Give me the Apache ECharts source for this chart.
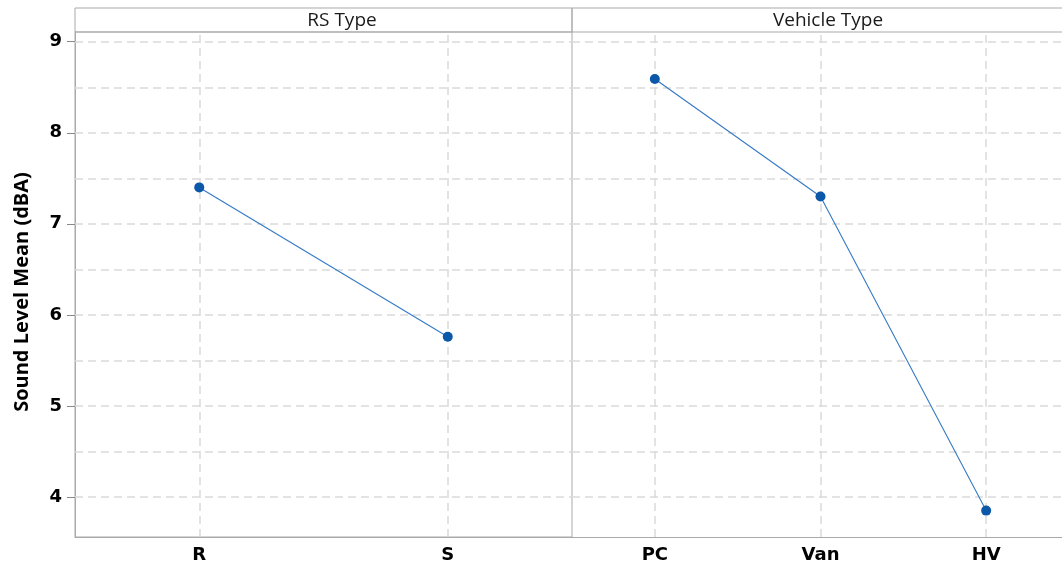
<!DOCTYPE html>
<html>
<head>
<meta charset="utf-8">
<script src="https://cdn.jsdelivr.net/npm/echarts@6/dist/echarts.min.js"></script>
<style>
  html, body { margin: 0; padding: 0; background: #fff; overflow: hidden; }
  #chart { width: 1069px; height: 565px; }
</style>
</head>
<body>
<div id="chart"></div>
<script>
// Main effects: mean sound level by factor level
const rsCategories = ['R', 'S'];
const rsMeans = [7.40, 5.76];
const vehicleCategories = ['PC', 'Van', 'HV'];
const vehicleMeans = [8.59, 7.30, 3.85];
const panelTitles = ['RS Type', 'Vehicle Type'];
const yTickLabels = [4, 5, 6, 7, 8, 9];
const yGridValues = [4, 4.5, 5, 5.5, 6, 6.5, 7, 7.5, 8, 8.5, 9];
const yName = 'Sound Level Mean (dBA)';
const yMin = 3.56;
const yMax = 9.107;

const frameColor = '#a9a9a9';
const gridLineStyle = { color: '#dadada', width: 1.5, type: [8, 5] };
const pointColor = '#0b57a8';
const lineColor = '#3579c6';

function gridMarkLines(categories) {
  const data = yGridValues.map(v => ({ yAxis: v }))
    .concat(categories.map(c => ({ xAxis: c })));
  return {
    silent: true,
    symbol: 'none',
    z: 1,
    label: { show: false },
    lineStyle: gridLineStyle,
    emphasis: { disabled: true },
    data: data
  };
}

const labelFont = { fontFamily: 'DejaVu Sans', fontWeight: 'bold', fontSize: 18, color: '#000' };

const chart = echarts.init(document.getElementById('chart'), null, { renderer: 'canvas' });
chart.setOption({
  animation: false,
  backgroundColor: '#fff',
  grid: [
    { left: 75, top: 32, width: 497, height: 505, show: true, borderColor: frameColor, borderWidth: 1, containLabel: false },
    { left: 572, top: 32, width: 497, height: 505, show: false, containLabel: false }
  ],
  xAxis: [
    {
      type: 'category', gridIndex: 0, data: rsCategories, boundaryGap: true,
      axisLine: { lineStyle: { color: frameColor } },
      axisTick: { alignWithLabel: true, length: 4, lineStyle: { color: frameColor } },
      axisLabel: Object.assign({ margin: 9 }, labelFont),
      splitLine: { show: false }
    },
    {
      type: 'category', gridIndex: 1, data: vehicleCategories, boundaryGap: true,
      axisLine: { lineStyle: { color: frameColor } },
      axisTick: { alignWithLabel: true, length: 4, lineStyle: { color: frameColor } },
      axisLabel: Object.assign({ margin: 9 }, labelFont),
      splitLine: { show: false }
    }
  ],
  yAxis: [
    {
      type: 'value', gridIndex: 0, min: yMin, max: yMax,
      axisLine: { show: true, lineStyle: { color: frameColor } },
      axisTick: { show: true, length: 8, customValues: yTickLabels, lineStyle: { color: '#888' } },
      axisLabel: Object.assign({ margin: 13, customValues: yTickLabels }, labelFont),
      splitLine: { show: false }
    },
    {
      type: 'value', gridIndex: 1, min: yMin, max: yMax, show: false,
      splitLine: { show: false }
    }
  ],
  graphic: [
    { type: 'rect', shape: { x: 75, y: 8, width: 497, height: 24 }, style: { fill: 'none', stroke: frameColor, lineWidth: 1 }, silent: true },
    { type: 'rect', shape: { x: 572, y: 8, width: 497, height: 24 }, style: { fill: 'none', stroke: frameColor, lineWidth: 1 }, silent: true },
    { type: 'text', x: 342, y: 21, style: { text: panelTitles[0], fill: '#1a1a1a', font: '19px "Open Sans"', textAlign: 'center', textVerticalAlign: 'middle' }, silent: true },
    { type: 'text', x: 828, y: 21, style: { text: panelTitles[1], fill: '#1a1a1a', font: '19px "Open Sans"', textAlign: 'center', textVerticalAlign: 'middle' }, silent: true },
    { type: 'text', x: 22, y: 292, rotation: Math.PI / 2, style: { text: yName, fill: '#000', font: 'bold 20px "Open Sans"', textAlign: 'center', textVerticalAlign: 'middle' }, silent: true }
  ],
  series: [
    {
      type: 'line', xAxisIndex: 0, yAxisIndex: 0, data: rsMeans, z: 10,
      symbol: 'circle', symbolSize: 10,
      itemStyle: { color: pointColor },
      lineStyle: { color: lineColor, width: 1.1 },
      markLine: gridMarkLines(rsCategories)
    },
    {
      type: 'line', xAxisIndex: 1, yAxisIndex: 1, data: vehicleMeans, z: 10,
      symbol: 'circle', symbolSize: 10,
      itemStyle: { color: pointColor },
      lineStyle: { color: lineColor, width: 1.1 },
      markLine: gridMarkLines(vehicleCategories)
    }
  ]
});
</script>
</body>
</html>
